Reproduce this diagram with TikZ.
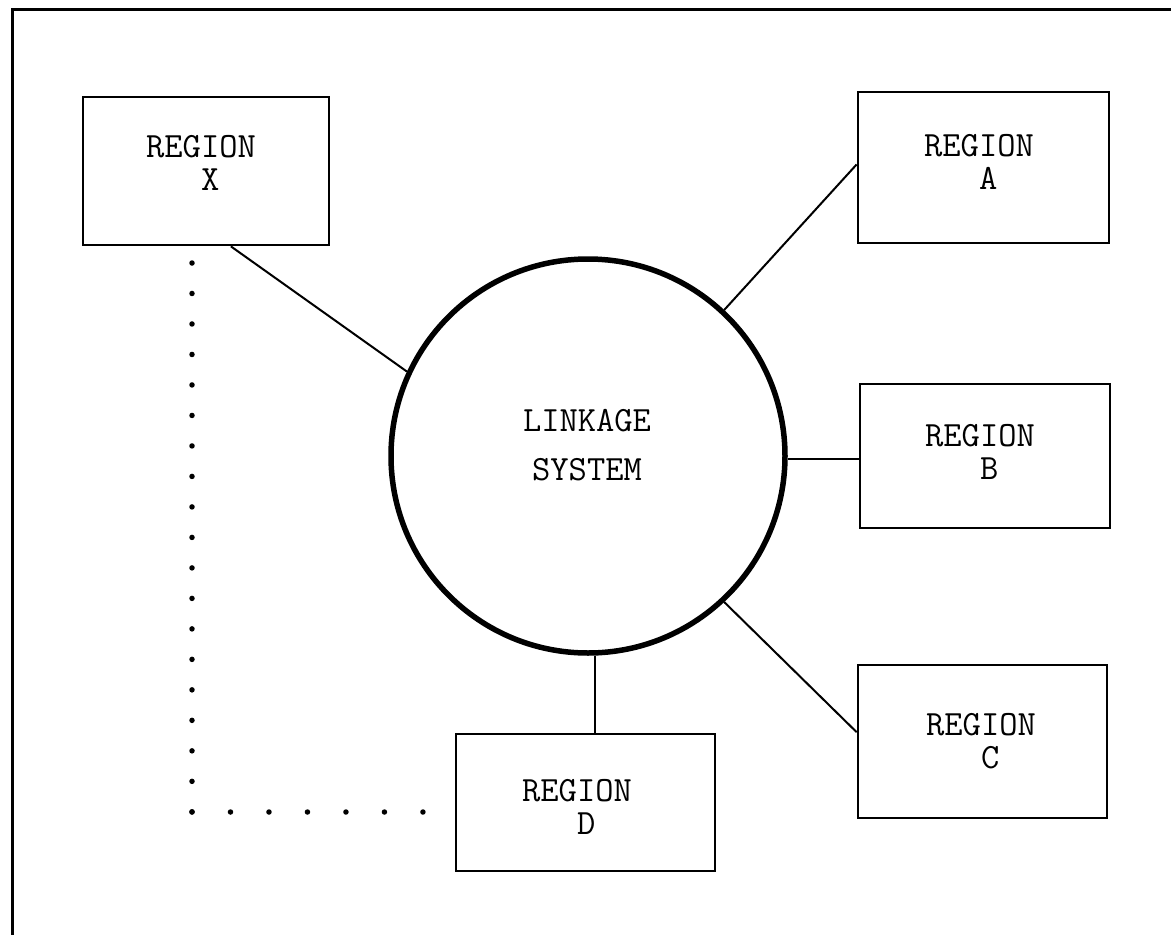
\documentclass[tikz,border=0pt]{standalone}
\usetikzlibrary{calc}
\begin{document}
\begin{tikzpicture}[x=1pt,y=-1pt,
  txt/.style={font=\ttfamily\fontsize{35.5}{33}\selectfont},
  region/.style={draw, line width=2.7pt, inner sep=0pt},
  rlabel/.style={txt, align=left, inner sep=0pt},
  link/.style={line width=2pt},
  dots/.style={line width=5.5pt, line cap=round}]
\useasboundingbox (0,0) rectangle (1171,935);
\fill[white] (0,0) rectangle (1171,935);
% outer frame (cropped)
\draw[line width=3pt] (12,935) -- (12,9) -- (1171,9);
% region boxes
\node[region, minimum width=246pt, minimum height=148pt] (X) at (206,171) {};
\node[region, minimum width=251pt, minimum height=151pt] (A) at (983.5,167.5) {};
\node[region, minimum width=250pt, minimum height=144pt] (B) at (985,456) {};
\node[region, minimum width=249pt, minimum height=153pt] (C) at (982.5,741.5) {};
\node[region, minimum width=259pt, minimum height=137pt] (D) at (585.5,802.5) {};
\node[rlabel] (Xt) at (201,163) {REGION\\\hphantom{REG}X};
\node[rlabel] (At) at (979,162) {REGION\\\hphantom{REG}A};
\node[rlabel] (Bt) at (980,452) {REGION\\\hphantom{REG}B};
\node[rlabel] (Ct) at (981,741) {REGION\\\hphantom{REG}C};
\node[rlabel] (Dt) at (577,807) {REGION\\\hphantom{REG}D};
% linkage system
\node[draw, circle, line width=5.5pt, minimum size=394pt, inner sep=0pt] (L) at (588,456) {};
\node[txt, align=center] (LT) at (587,445) {LINKAGE\\[16pt]SYSTEM};
% connectors
\draw[link] ($(X.south west)!0.6!(X.south east)$) -- (L.155);
\draw[link] ($(A.north west)!0.48!(A.south west)$) -- (L.47.5);
\draw[link] (L.-1.5) -- (L.-1.5 -| B.west);
\draw[link] ($(C.north west)!0.44!(C.south west)$) -- (L.-47.6);
\draw[link] (L.-88.5) -- (L.-88.5 |- D.north);
% dotted link X -- D
\coordinate (dtop) at (192,263);
\coordinate (dcorner) at (192,812);
\coordinate (dend) at (423,812);
\draw[dots, dash pattern=on 0pt off 30.49pt] (dtop) -- (dcorner);
\draw[dots, dash pattern=on 0pt off 38.49pt] (dcorner) -- (dend);
\end{tikzpicture}
\end{document}
